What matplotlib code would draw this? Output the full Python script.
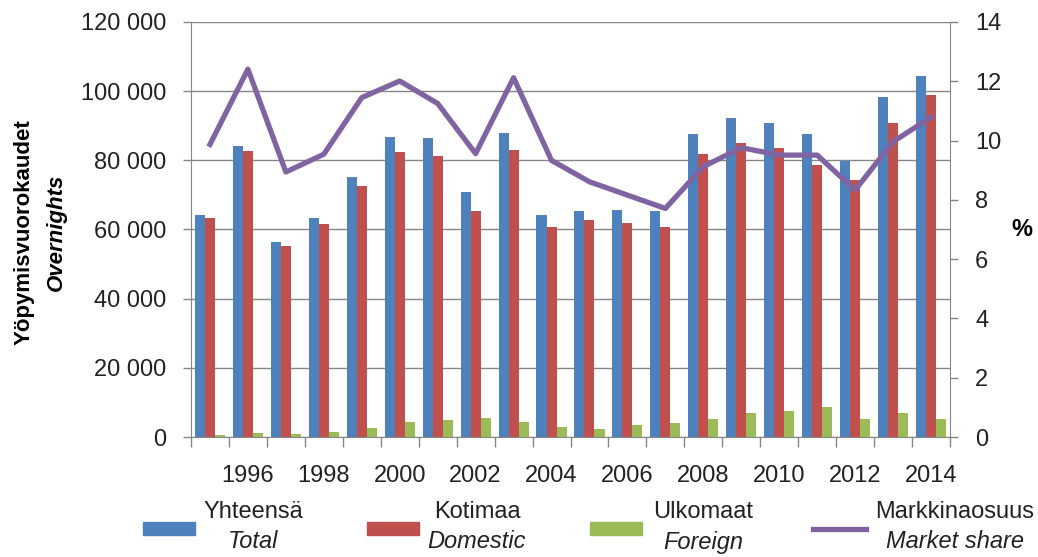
import matplotlib.pyplot as plt
import numpy as np
from matplotlib.patches import Rectangle
from matplotlib.lines import Line2D
from matplotlib.ticker import FuncFormatter, FixedLocator

plt.rcParams['font.family'] = ['Liberation Sans', 'DejaVu Sans']

years = list(range(1995, 2015))
total = [64200, 84200, 56400, 63400, 75300, 86800, 86400, 70800, 87800, 64100,
         65300, 65700, 65400, 87500, 92300, 90800, 87500, 79800, 98200, 104500]
domestic = [63400, 82700, 55200, 61500, 72700, 82300, 81200, 65300, 83100, 60800,
            62800, 62000, 60800, 81900, 84900, 83500, 78700, 74400, 90800, 99000]
foreign = [600, 1200, 800, 1500, 2600, 4400, 4800, 5600, 4400, 3000,
           2300, 3400, 4100, 5200, 7000, 7400, 8600, 5200, 7000, 5200]
share = [9.87, 12.41, 8.94, 9.54, 11.45, 12.01, 11.25, 9.56, 12.12, 9.33,
         8.61, 8.16, 7.71, 9.12, 9.76, 9.51, 9.51, 8.33, 9.96, 10.79]

c_blue = '#4F81BD'
c_red = '#C0504D'
c_green = '#9BBB59'
c_purple = '#8064A2'
c_grid = '#868686'
fs = 17

fig = plt.figure(figsize=(10.38, 5.57), dpi=100)
ax = fig.add_axes([191 / 1038, 120 / 557, 759 / 1038, 415 / 557])

x = np.arange(len(years))
w = 0.264
ax.bar(x - w, total, w, color=c_blue, zorder=2)
ax.bar(x, domestic, w, color=c_red, zorder=2)
ax.bar(x + w, foreign, w, color=c_green, zorder=2)

ax.set_xlim(-0.5, len(years) - 0.5)
ax.set_ylim(0, 120000)
ax.set_yticks(np.arange(0, 120001, 20000))
ax.yaxis.set_major_formatter(FuncFormatter(lambda v, p: f'{v:,.0f}'.replace(',', ' ')))
ax.grid(axis='y', color=c_grid, linewidth=1, zorder=0)
ax.set_axisbelow(True)

label_idx = [i for i, y in enumerate(years) if y % 2 == 0]
ax.set_xticks(label_idx)
ax.set_xticklabels([str(years[i]) for i in label_idx])
ax.xaxis.set_minor_locator(FixedLocator(np.arange(-0.5, len(years), 1)))
ax.tick_params(axis='x', which='major', length=0, pad=20, labelsize=fs, colors='#222222')
ax.tick_params(axis='x', which='minor', length=7, width=1, color=c_grid)
ax.tick_params(axis='y', length=6, width=1, color=c_grid, pad=12, labelsize=fs, labelcolor='#222222')

for side in ['top', 'right']:
    ax.spines[side].set_visible(False)
for side in ['left', 'bottom']:
    ax.spines[side].set_color(c_grid)

ax2 = ax.twinx()
ax2.plot(x, share, color=c_purple, linewidth=3.8, solid_joinstyle='round')
ax2.set_ylim(0, 14)
ax2.set_yticks(np.arange(0, 15, 2))
ax2.tick_params(axis='y', length=6, width=1, color=c_grid, pad=12, labelsize=fs, labelcolor='#222222')
for side in ['top', 'left', 'bottom']:
    ax2.spines[side].set_visible(False)
ax2.spines['right'].set_color(c_grid)

# axis titles
fig.text(24 / 1038, 1 - 232 / 557, 'Yöpymisvuorokaudet', rotation=90, ha='center', va='center',
         fontsize=16, fontweight='bold')
fig.text(56 / 1038, 1 - 232 / 557, 'Overnights', rotation=90, ha='center', va='center',
         fontsize=16, fontweight='bold', style='italic')
fig.text(1022 / 1038, 1 - 230 / 557, '%', ha='center', va='center', fontsize=fs, fontweight='bold')

# legend
legend_items = [
    ('patch', c_blue, 143, 253, 'Yhteensä', 'Total'),
    ('patch', c_red, 367, 477, 'Kotimaa', 'Domestic'),
    ('patch', c_green, 590, 703, 'Ulkomaat', 'Foreign'),
    ('line', c_purple, 813, 955, 'Markkinaosuus', 'Market share'),
]
for kind, col, px, tx, top_txt, bot_txt in legend_items:
    if kind == 'patch':
        fig.add_artist(Rectangle((px / 1038, 1 - 535 / 557), 52 / 1038, 13 / 557,
                                 transform=fig.transFigure, color=col))
    else:
        fig.add_artist(Line2D([px / 1038, (px + 53) / 1038], [1 - 529 / 557] * 2,
                              transform=fig.transFigure, color=col, linewidth=3.8))
    fig.text(tx / 1038, 1 - 512 / 557, top_txt, ha='center', va='center', fontsize=fs, color='#222222')
    fig.text(tx / 1038, 1 - 542 / 557, bot_txt, ha='center', va='center', fontsize=fs,
             style='italic', color='#222222')

fig.savefig('out.png', dpi=100)
